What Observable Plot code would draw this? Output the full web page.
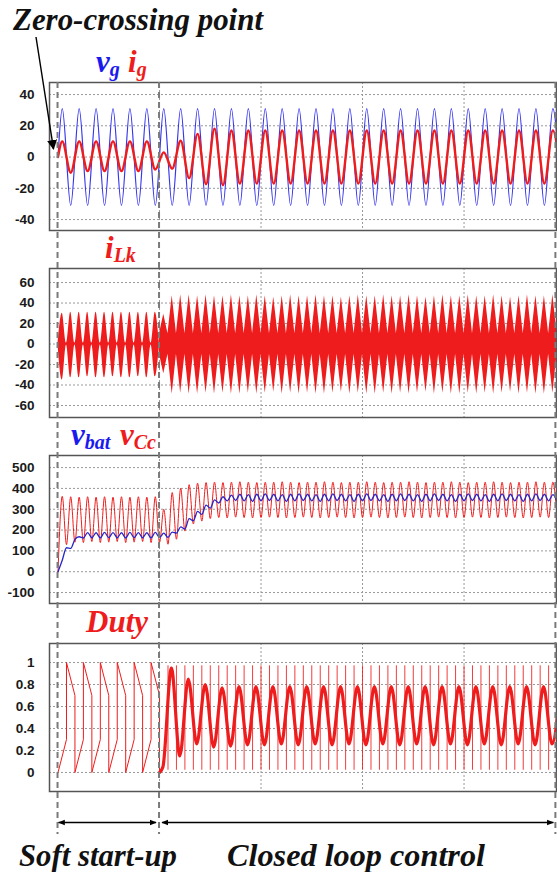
<!DOCTYPE html>
<html><head><meta charset="utf-8">
<script src="https://cdn.jsdelivr.net/npm/d3@7"></script>
<script src="https://cdn.jsdelivr.net/npm/@observablehq/plot@0.6"></script>
<style>
html,body{margin:0;padding:0;background:#fff;}
#wrap{position:relative;width:557px;height:872px;overflow:hidden;background:#fff;}
</style></head><body><div id="wrap"></div>
<script>
// ---------- data ----------
const gridFreq = 60;                 // Hz, grid voltage
const tSoft = 0.1;                   // end of soft start-up (s)
const tEnd = 0.4905;                 // end of record (s)
const xDomain = [-0.0084, 0.4911];
const xGrid = [0.1, 0.2, 0.3, 0.4];
const markTimes = [0, 0.1, 0.4905];

// panel 1 : vg, ig  (per 60 Hz cycle)
const vgPeaks   = [31,31,31,31,31,31,31,31,31,31,31,31,31,31,31,31,31,31,31,31,31,31,31,31,31,31,31,31,31,31];
const vgTroughs = [-31,-31,-31,-31,-31,-31,-31,-31,-31,-31,-31,-31,-31,-31,-31,-31,-31,-31,-31,-31,-31,-31,-31,-31,-31,-31,-31,-31,-31,-31];
const igPeaks   = [10,10,10,10,10,10,3,10.4,14.8,18.2,17,17,17,17,17,17,17,17,17,17,17,17,17,17,17,17,17,17,17,17];
const igTroughs = [-10,-9,-9,-9,-9,-8,-7.4,-13.5,-17.4,-18,-17,-17,-17,-17,-17,-17,-17,-17,-17,-17,-17,-17,-17,-17,-17,-17,-17,-17,-17,-17];
const ticks1 = [-40,-20,0,20,40];

// panel 2 : iLk lobe envelope (per 120 Hz half cycle)
const iLkTop = [30,31,31,31,31,31,31,31,31,31,31,31, 29,
  47,48,48,47,48,47,47,48,47,47, 48,47,46,47,48,47,47,48,47,47,
  46,47,48,47,47,48,47,47,48,47, 46,47,48,47,47,48,47,47,48,47, 46,47,48,47,47,48];
const iLkBottom = [-35,-33,-33,-32,-33,-33,-32,-33,-33,-32,-33,-32, -29,
  -49,-48,-49,-49,-48,-49,-48,-49,-49,-48, -49,-48,-47,-49,-48,-49,-48,-49,-49,-48,
  -47,-49,-48,-49,-49,-48,-49,-48,-49,-48, -47,-49,-48,-49,-49,-48,-49,-48,-49,-48, -47,-49,-48,-49,-49,-48];
const iLkBand = [1, 10];             // soft start / closed loop
const ticks2 = [-60,-40,-20,0,20,40,60];

// panel 3 : vCc, vbat (120 Hz ripple: peaks at mid half-cycle, troughs at boundaries)
const vCcPeaks = [362,360,358,360,358,360,358,360,358,360,358,360, 300,380,401,418,425,428,
  430,428,430,432,430,428,430,430,432,430, 428,430,430,432,430,428,430,430,432,430,
  428,430,430,432,430,428,430,430,432,430, 428,430,430,432,430,428,430,430,432,430, 430];
const vCcTroughs = [0,130,142,140,145,140,142,145,140,142,145,140,140, 132,156,195,229,243,255,
  260,258,262,260,258,260,262,260,258,260, 262,260,258,260,262,260,258,260,262,260,
  258,260,262,260,258,260,262,260,258,260, 262,260,258,260,262,260,258,260,262,260, 260];
const vbatTroughs = [0,115,155,162, 163,162,164,163,162,164,163,162,164,
  165,185,205,245,275,305,330,340,342,
  340,338,340,342,340,338,340,342,340,338, 340,342,340,338,340,342,340,338,340,342,
  340,338,340,342,340,338,340,342,340,338, 340,342,340,338,340,342,340,338];
const vbatPeaks = [55,112,168, 188,187,189,188,187,189,188,187,189,
  185,190,215,255,290,320,345,360,368,
  372,370,372,374,372,370,372,374,372,370, 372,374,372,370,372,374,372,370,372,374,
  372,370,372,374,372,370,372,374,372,370, 372,374,372,370,372,374,372,370];
const ticks3 = [-100,0,100,200,300,400,500];

// panel 4 : duty
const dutyRiseEnd   = [0.3,0.3,0.3,0.3,0.3,0.3];   // soft start, end of rising ramp
const dutyFallStart = [1,1,1,1,1,1];               // soft start, top after jump
const dutyFallEnd   = [0.7,0.7,0.7,0.7,0.7,0.7];   // soft start, end of falling ramp
const dutyPeaks   = [0.95,0.85,0.80,0.77,0.78,0.78,0.78,0.78,0.78,0.78,0.78,0.78,0.78,0.78,0.78,0.78,0.78,0.78,0.78,0.78,0.78,0.78,0.78,0.78];
const dutyTroughs = [0.05,0.15,0.26,0.23,0.24,0.25,0.25,0.26,0.25,0.26,0.25,0.26,0.25,0.26,0.25,0.26,0.25,0.26,0.25,0.26,0.25,0.26,0.25,0.26];
const dutySpike = [0.02, 0.97];
const ticks4 = [0,0.2,0.4,0.6,0.8,1];

// ---------- build tables ----------
const T = 1 / gridFreq, H = T / 2;
const nSoftCycles = dutyRiseEnd.length;
const nSoftHalf = 2 * nSoftCycles;

const vg = [{t: 0, v: 0}];
vgPeaks.forEach((p, k) => { vg.push({t: (k + 0.25) * T, v: p}, {t: (k + 0.75) * T, v: vgTroughs[k]}); });
const ig = [{t: 0, v: 0}];
igPeaks.forEach((p, k) => { ig.push({t: (k + 0.25) * T, v: p}, {t: (k + 0.75) * T, v: igTroughs[k]}); });

const iLkSoft = [], iLkClosed = [];
iLkTop.forEach((top, j) => {
  const soft = j < nSoftHalf;
  const b = soft ? iLkBand[0] : iLkBand[1];
  const arr = soft ? iLkSoft : iLkClosed;
  arr.push({t: j * H, lo: -b, hi: b}, {t: (j + 0.5) * H, lo: iLkBottom[j], hi: top});
  if (j === nSoftHalf - 1) iLkSoft.push({t: (j + 1) * H, lo: -b, hi: b});
});
iLkClosed.push({t: iLkTop.length * H, lo: -iLkBand[1], hi: iLkBand[1]});

const vCc = [];
vCcTroughs.forEach((v, j) => { vCc.push({t: j * H, v}); if (j < vCcPeaks.length) vCc.push({t: (j + 0.5) * H, v: vCcPeaks[j]}); });
const vbat = [];
vbatTroughs.forEach((v, j) => { vbat.push({t: j * H, v}); if (j < vbatPeaks.length) vbat.push({t: (j + 0.5) * H, v: vbatPeaks[j]}); });

const dutySoft = [];
dutyRiseEnd.forEach((r, k) => {
  dutySoft.push({t: k * T, v: 0}, {t: (k + 0.5) * T, v: r}, {t: (k + 0.5) * T, v: dutyFallStart[k]},
                {t: (k + 1) * T, v: dutyFallEnd[k]}, {t: (k + 1) * T, v: 0});
});
const dutyWave = [{t: tSoft, v: 0}];
dutyPeaks.forEach((p, i) => {
  const k = nSoftCycles + i;
  dutyWave.push({t: (k + 0.2) * T, v: dutyTroughs[i]}, {t: (k + 0.7) * T, v: p});
});
const spikeTimes = [];
for (let j = nSoftHalf + 1; j * H < tEnd; j++) spikeTimes.push(j * H);

// ---------- draw ----------
const wrap = document.getElementById("wrap");
const W = 557;
const RED = "#ee1c1c", BLUE = "#3535ee", BLUE2 = "#2626c8";

function panel(top, height, yDomain, yTicks, marks) {
  const p = Plot.plot({
    width: W, height, marginLeft: 49, marginRight: 1, marginTop: 2, marginBottom: 2,
    x: {domain: xDomain, axis: null},
    y: {domain: yDomain, ticks: yTicks, tickSize: 0, tickPadding: 15, tickFormat: d => String(d), label: null},
    style: {fontFamily: "'Liberation Sans', Arial, sans-serif", fontSize: "13.5px", fontWeight: "bold", color: "#1a1a1a", background: "transparent", overflow: "visible"},
    marks: [
      Plot.ruleY(yTicks, {stroke: "#999", strokeDasharray: "2,2", strokeWidth: 1}),
      Plot.ruleX(xGrid, {stroke: "#999", strokeDasharray: "2,2", strokeWidth: 1}),
      ...marks,
      Plot.frame({stroke: "#555", strokeWidth: 1.5})
    ]
  });
  p.style.position = "absolute"; p.style.top = top + "px"; p.style.left = "0px";
  wrap.appendChild(p);
  return p;
}

const p1 = panel(80, 152, [-47, 47.7], ticks1, [
  Plot.line(vg, {x: "t", y: "v", stroke: BLUE, strokeWidth: 1.2, curve: "monotone-x", clip: true}),
  Plot.line(ig, {x: "t", y: "v", stroke: RED, strokeWidth: 2.4, curve: "monotone-x", clip: true})
]);
panel(266, 153, [-71.7, 73.7], ticks2, [
  Plot.areaY(iLkSoft, {x: "t", y1: "lo", y2: "hi", fill: RED, curve: "monotone-x", clip: true}),
  Plot.areaY(iLkClosed, {x: "t", y1: "lo", y2: "hi", fill: RED, curve: "linear", clip: true})
]);
panel(453, 152, [-152.6, 558], ticks3, [
  Plot.line(vCc, {x: "t", y: "v", stroke: RED, strokeWidth: 1, curve: "monotone-x", clip: true}),
  Plot.line(vbat, {x: "t", y: "v", stroke: BLUE2, strokeWidth: 1.3, curve: "monotone-x", clip: true})
]);
panel(641, 152, [-0.173, 1.173], ticks4, [
  Plot.line(dutySoft, {x: "t", y: "v", stroke: RED, strokeWidth: 1, clip: true}),
  Plot.ruleX(spikeTimes, {y1: dutySpike[0], y2: dutySpike[1], stroke: RED, strokeWidth: 1, strokeOpacity: 0.85, clip: true}),
  Plot.line(dutyWave, {x: "t", y: "v", stroke: RED, strokeWidth: 3.2, curve: "monotone-x", clip: true})
]);

// ---------- overlay: dashed markers, arrows, labels ----------
const sx = p1.scale("x");
const X = t => sx.apply(t);
const svg = d3.select(wrap).append("svg").attr("width", W).attr("height", 872)
  .style("position", "absolute").style("left", "0px").style("top", "0px");
const defs = svg.append("defs");
defs.append("marker").attr("id", "ah").attr("viewBox", "0 0 10 10").attr("refX", 9).attr("refY", 5)
  .attr("markerWidth", 7).attr("markerHeight", 7).attr("orient", "auto-start-reverse").attr("markerUnits", "userSpaceOnUse")
  .append("path").attr("d", "M0,1 L10,5 L0,9 Z").attr("fill", "#000");
defs.append("marker").attr("id", "ah2").attr("viewBox", "0 0 10 10").attr("refX", 9).attr("refY", 5)
  .attr("markerWidth", 10).attr("markerHeight", 10).attr("orient", "auto").attr("markerUnits", "userSpaceOnUse")
  .append("path").attr("d", "M0,0 L10,5 L0,10 Z").attr("fill", "#000");

markTimes.forEach(t => {
  svg.append("line").attr("x1", X(t)).attr("x2", X(t)).attr("y1", 82).attr("y2", 834)
    .attr("stroke", "#7a7a7a").attr("stroke-width", 2).attr("stroke-dasharray", "6,4");
});

// bottom double arrows
[[markTimes[0], markTimes[1], 1, -3], [markTimes[1], markTimes[2], 3, -2]].forEach(([a, b, pa, pb]) => {
  svg.append("line").attr("x1", X(a) + pa).attr("x2", X(b) + pb).attr("y1", 822.5).attr("y2", 822.5)
    .attr("stroke", "#000").attr("stroke-width", 1.4)
    .attr("marker-start", "url(#ah)").attr("marker-end", "url(#ah)");
});

// zero-crossing arrow
svg.append("line").attr("x1", 36).attr("y1", 37).attr("x2", 53.5).attr("y2", 149)
  .attr("stroke", "#000").attr("stroke-width", 1.4).attr("marker-end", "url(#ah2)");

const serif = "'Liberation Serif','Times New Roman',serif";
function label(x, y, parts, len) {
  const t = svg.append("text").attr("x", x).attr("y", y).attr("font-family", serif)
    .attr("font-weight", "bold").attr("font-style", "italic");
  if (len) t.attr("textLength", len).attr("lengthAdjust", "spacingAndGlyphs");
  parts.forEach(([s, color, size, dy]) => {
    t.append("tspan").text(s).attr("fill", color).attr("font-size", size).attr("dy", dy || 0);
  });
}
label(13, 30, [["Zero-crossing point", "#111", 31]], 250);
label(96, 72, [["v", "#1a1aee", 31], ["g", "#1a1aee", 20, 4]]);
label(128, 72, [["i", RED, 31], ["g", RED, 20, 4]]);
label(105, 258, [["i", RED, 31], ["Lk", RED, 20, 4]]);
label(71, 445, [["v", "#1a1aee", 31], ["bat", "#1a1aee", 20, 4]]);
label(120, 445, [["v", RED, 31], ["Cc", RED, 20, 4]]);
label(86, 632, [["Duty", RED, 31]], 62);
label(19, 866, [["Soft start-up", "#111", 31]], 158);
label(227, 866, [["Closed loop control", "#111", 31]], 258);
</script></body></html>
